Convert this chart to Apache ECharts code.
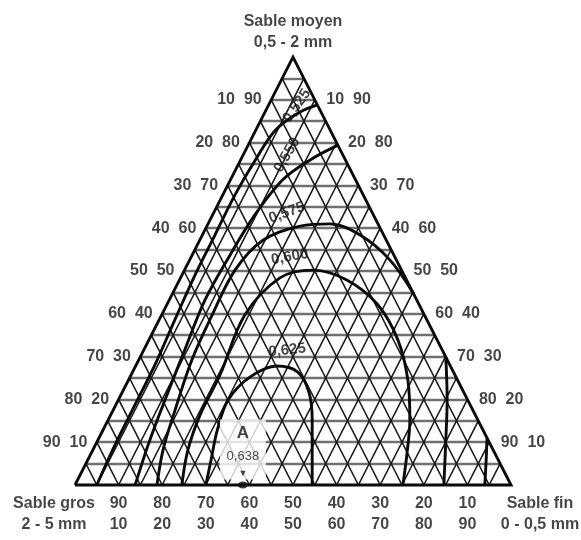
<!DOCTYPE html>
<html>
<head>
<meta charset="utf-8">
<script src="https://cdn.jsdelivr.net/npm/echarts@6/dist/echarts.min.js"></script>
<style>
  html, body { margin: 0; padding: 0; background: #fff; }
  #chart { width: 581px; height: 540px; }
</style>
</head>
<body>
<div id="chart"></div>
<script>
// Ternary grid: lines every 5 %, labels every 10 %
const gridSteps = [5, 10, 15, 20, 25, 30, 35, 40, 45, 50, 55, 60, 65, 70, 75, 80, 85, 90, 95];
const tickValues = [10, 20, 30, 40, 50, 60, 70, 80, 90];

// Corner names (gros = 2-5 mm, moyen = 0,5-2 mm, fin = 0-0,5 mm)
const cornerGros = 'Sable gros\n2 - 5 mm';
const cornerMoyen = 'Sable moyen\n0,5 - 2 mm';
const cornerFin = 'Sable fin\n0 - 0,5 mm';

// Iso-compactness curves as [fin %, moyen %] (gros = 100 - fin - moyen)
const iso0625 = [[30, 0], [28.3, 5.8], [26.2, 12.9], [25.2, 19.9], [27.5, 25.2], [32.4, 27.8], [37.9, 26.4], [42.8, 21.7], [46.8, 15.2], [50.9, 7.0], [54.4, 0]];
const iso0600 = [[24.5, 0], [21.8, 8.2], [20.5, 16.4], [20.4, 25.7], [19.1, 39.7], [22.8, 48.4], [29.5, 50.2], [38.4, 47.9], [48.4, 42.1], [57.1, 33.9], [64.1, 24.5], [69.2, 15.2], [72.6, 7.0], [75.2, 0]];
const iso0575a = [[18.8, 0], [16.1, 8.2], [14.2, 17.5], [12.2, 29.2], [11.6, 39.7], [11.6, 50.2], [14.5, 57.2], [21.4, 60.5], [28.0, 61.0], [36.2, 58.4], [45.9, 52.6], [55.4, 44.6]];
const iso0575b = [[70.1, 29.9], [75.4, 19.9], [79.8, 10.5], [84.6, 0]];
const iso0550a = [[20.6, 79.4], [15.9, 75.9], [12.0, 71.3], [9.7, 63.1], [8.7, 53.7], [8.2, 43.2], [9.4, 31.5], [10.7, 19.9], [12.1, 9.3], [13.8, 0]];
const iso0550b = [[89.0, 11.0], [91.4, 5.8], [94.0, 0]];
const iso0525 = [[11.2, 88.8], [8.0, 87.1], [4.5, 82.9], [3.4, 75.9], [2.8, 67.8], [2.9, 58.4], [3.0, 49.1], [3.6, 38.6], [4.3, 28.0], [4.4, 18.7], [4.5, 9.3], [5.0, 0]];

// Curve captions: [text, fin %, moyen %]
const isoCaptions = [
  ['0,525', 6.6, 88.6],
  ['0,550', 10.1, 77.1],
  ['0,575', 16.8, 63.6],
  ['0,600', 22.6, 53.3],
  ['0,625', 32.9, 31.5]
];

// Optimum point A on the gros/fin side
const pointA = [38.5, 0];
const pointAValue = '0,638';

// [fin, moyen] -> plane coordinates (x along the base, y = moyen)
const toXY = p => [p[0] + p[1] / 2, p[1]];

const FONT = '"Liberation Sans", Arial, Helvetica, sans-serif';
const INK = '#161616';

const seg = (a, b) => ({ coords: [toXY(a), toXY(b)] });
const rowLines = gridSteps.map(k => seg([0, k], [100 - k, k]));          // moyen constant
const finLines = gridSteps.map(k => seg([k, 0], [k, 100 - k]));          // fin constant
const grosLines = gridSteps.map(k => seg([100 - k, 0], [0, 100 - k]));   // gros constant

function gridSeries(data, color, width) {
  return {
    type: 'lines', coordinateSystem: 'cartesian2d', polyline: false,
    data, silent: true, clip: false, z: 1,
    lineStyle: { color, width, opacity: 1 }
  };
}

function curve(points) {
  return {
    type: 'line', data: points.map(toXY), smooth: 0.35, showSymbol: false,
    symbol: 'none', clip: false, silent: true, z: 4,
    lineStyle: { color: '#0a0a0a', width: 2.9 }
  };
}

function textPoints(items, label) {
  return {
    type: 'scatter', symbolSize: 1, silent: true, clip: false, z: 6,
    itemStyle: { color: 'rgba(0,0,0,0)' },
    data: items,
    label: Object.assign({ show: true, color: INK, fontFamily: FONT, fontSize: 16, fontWeight: 'bold' }, label)
  };
}

const leftTicks = tickValues.slice().reverse().map(m => ({ value: toXY([0, m]), name: (100 - m) + '  ' + m }));
const rightTicks = tickValues.slice().reverse().map(m => ({ value: toXY([100 - m, m]), name: (100 - m) + '  ' + m }));
const baseTicks = tickValues.map(f => ({ value: toXY([f, 0]), name: (100 - f) + '\n' + f }));

const captionRotation = { '0,525': 55, '0,550': 60, '0,575': 20, '0,600': 10, '0,625': 6 };
const captionData = isoCaptions.map(c => ({
  value: toXY([c[1], c[2]]), name: c[0],
  label: { rotate: captionRotation[c[0]] }
}));

const chart = echarts.init(document.getElementById('chart'), null, { renderer: 'canvas' });
chart.setOption({
  animation: false,
  backgroundColor: '#fff',
  grid: { left: 75, right: 70, top: 57, bottom: 55 },
  xAxis: { type: 'value', min: 0, max: 100, show: false },
  yAxis: { type: 'value', min: 0, max: 100, show: false },
  series: [
    gridSeries(rowLines, '#707070', 2.4),
    gridSeries(finLines, '#1a1a1a', 1.6),
    gridSeries(grosLines, '#1a1a1a', 1.6),
    {
      type: 'line', data: [[0, 0], [100, 0], [50, 100], [0, 0]],
      showSymbol: false, symbol: 'none', clip: false, silent: true, z: 3,
      lineStyle: { color: '#0a0a0a', width: 2.8, join: 'miter' }
    },
    curve(iso0525), curve(iso0550a), curve(iso0550b),
    curve(iso0575a), curve(iso0575b), curve(iso0600), curve(iso0625),
    textPoints(leftTicks, { position: 'left', distance: 9, formatter: p => p.name }),
    textPoints(rightTicks, { position: 'right', distance: 11, formatter: p => p.name }),
    textPoints(baseTicks, { position: 'bottom', distance: 8, lineHeight: 21, align: 'center', formatter: p => p.name }),
    textPoints([{ value: toXY([0, 100]), name: cornerMoyen }], { position: 'top', distance: 3, lineHeight: 21, align: 'center', formatter: p => p.name }),
    textPoints([{ value: toXY([0, 0]), name: cornerGros }], { position: 'bottom', distance: 8, offset: [-21, 0], lineHeight: 21, align: 'center', formatter: p => p.name }),
    textPoints([{ value: toXY([100, 0]), name: cornerFin }], { position: 'bottom', distance: 8, offset: [29, 0], lineHeight: 21, align: 'center', formatter: p => p.name }),
    textPoints(captionData, { position: 'inside', fontSize: 15, formatter: p => p.name }),
    {
      type: 'scatter', silent: true, clip: false, z: 7,
      data: [{ value: toXY(pointA), name: pointAValue }],
      symbol: 'circle', symbolSize: [10, 7],
      itemStyle: { color: '#0a0a0a' },
      label: {
        show: true, position: 'top', distance: 2, align: 'center',
        backgroundColor: '#fff', width: 46, padding: [2, 0, 0, 0],
        formatter: p => '{a|A}\n{v|' + p.name + '}\n{t|▼}',
        rich: {
          a: { fontFamily: FONT, fontSize: 17, fontWeight: 'bold', color: INK, lineHeight: 24, align: 'center' },
          v: { fontFamily: FONT, fontSize: 13, color: INK, lineHeight: 22, align: 'center' },
          t: { fontFamily: FONT, fontSize: 9, color: INK, lineHeight: 12, align: 'center' }
        }
      }
    }
  ]
});
</script>
</body>
</html>
